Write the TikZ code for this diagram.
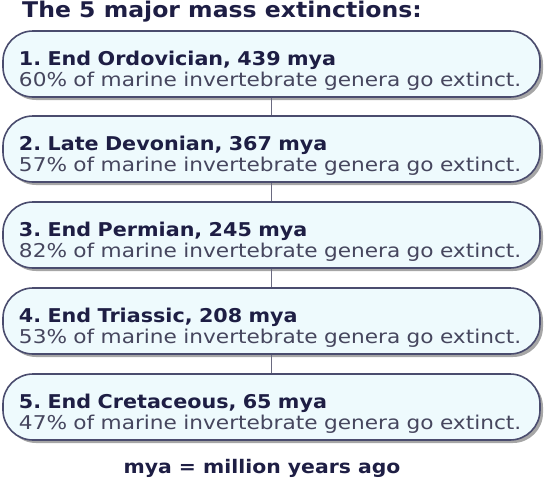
\documentclass[tikz,border=0pt]{standalone}
\usepackage{fontspec}
\setmainfont{DejaVu Sans}[FakeStretch=1.14, BoldFeatures={FakeStretch=1.09}]
\usetikzlibrary{shadows}

\definecolor{boxfill}{HTML}{EEFAFD}
\definecolor{boxline}{HTML}{4A4C6E}
\definecolor{headink}{HTML}{1E1E44}
\definecolor{bodyink}{HTML}{46465E}
\definecolor{linkline}{HTML}{6A6A80}

\tikzset{
	era/.style={draw=boxline, line width=1.6pt, fill=boxfill, rounded corners=30pt,
		minimum width=537pt, minimum height=66pt, inner xsep=16pt,
		text width=505pt, align=left, text=bodyink,
		font=\frenchspacing\fontsize{19}{21}\selectfont,
		drop shadow={shadow xshift=3pt, shadow yshift=-3pt, fill=black!35, opacity=1}},
	heading/.style={font=\bfseries\fontsize{21.6}{24}\selectfont, text=headink, inner sep=0pt},
	link/.style={draw=linkline, line width=1.2pt},
}
\newcommand{\erahead}[1]{\rule{0pt}{27pt}{\bfseries\color{headink}#1}}

\begin{document}
\begin{tikzpicture}[x=1pt, y=-1pt]
	\useasboundingbox (0, 0) rectangle (546, 480);
	\node [heading, anchor=base west] (title) at (22, 17) {The 5 major mass extinctions:};
	\node [era] (e1) at (271.5, 64) {\erahead{1. End Ordovician, 439 mya}\\60\% of marine invertebrate genera go extinct.};
	\node [era] (e2) at (271.5, 149) {\erahead{2. Late Devonian, 367 mya}\\57\% of marine invertebrate genera go extinct.};
	\node [era] (e3) at (271.5, 235) {\erahead{3. End Permian, 245 mya}\\82\% of marine invertebrate genera go extinct.};
	\node [era] (e4) at (271.5, 321) {\erahead{4. End Triassic, 208 mya}\\53\% of marine invertebrate genera go extinct.};
	\node [era] (e5) at (271.5, 407) {\erahead{5. End Cretaceous, 65 mya}\\47\% of marine invertebrate genera go extinct.};
	\node [heading, font=\bfseries\fontsize{18.7}{21}\selectfont, anchor=base] (note) at (262, 473) {mya = million years ago};
	\draw [link] (e1) -- (e2);
	\draw [link] (e2) -- (e3);
	\draw [link] (e3) -- (e4);
	\draw [link] (e4) -- (e5);
\end{tikzpicture}
\end{document}
